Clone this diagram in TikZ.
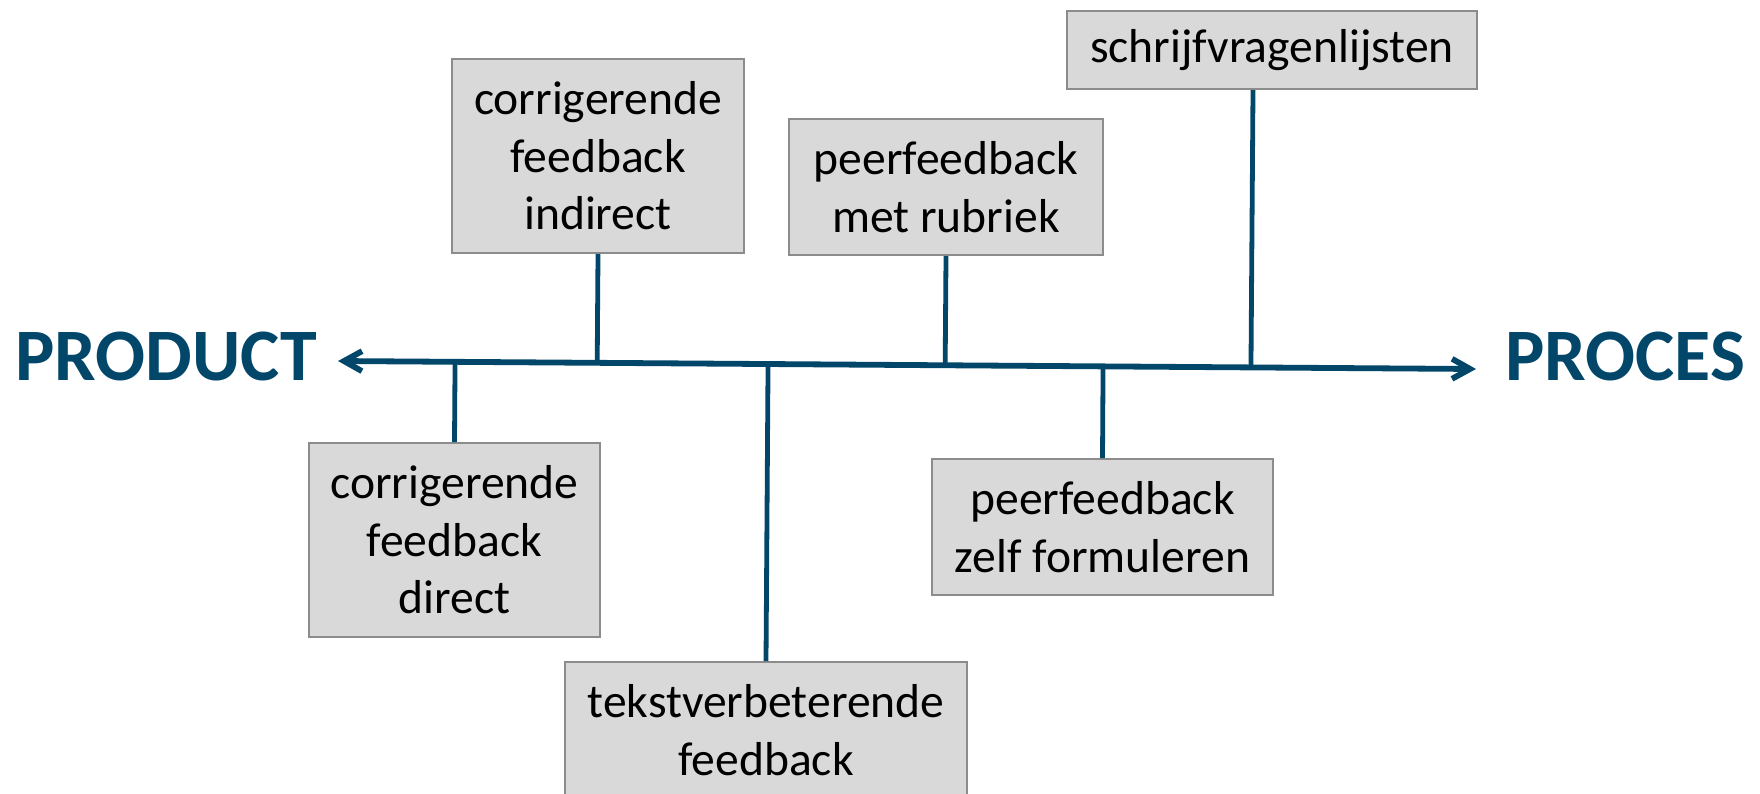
\documentclass[tikz,border=0pt]{standalone}
\usepackage{fontspec}
\setmainfont{Carlito}
\usepackage{xcolor}
\usepackage{tikz}
\usetikzlibrary{arrows.meta,positioning,calc}
\definecolor{procblue}{HTML}{02466A}
\definecolor{boxfill}{HTML}{D9D9D9}
\definecolor{boxgray}{HTML}{8C8C8C}

\begin{document}
\begin{tikzpicture}[
  x=0.5pt, y=-0.5pt,
  box/.style={rectangle, draw=boxgray, line width=1pt, fill=boxfill, align=center, inner sep=0pt, font=\fontsize{23.8}{28.75}\selectfont},
  axis/.style={{Straight Barb[length=9pt, width=10pt]}-{Straight Barb[length=9pt, width=10pt]}, line width=2.9pt, draw=procblue, line cap=round},
  link/.style={line width=2.4pt, draw=procblue},
  pole/.style={font=\fontsize{37}{44}\selectfont\bfseries, text=procblue, inner sep=0pt, anchor=base west}
]
\useasboundingbox (0,0) rectangle (1760,793);

% Axis with both ends
\coordinate (west) at (338,361);
\coordinate (east) at (1476,369);
\draw[axis] (west) -- (east);
\node[pole] (product) at (15,380) {PRODUCT};
\node[pole] (proces) at (1505,380) {PROCES};

% Boxes above the axis
\node[box, minimum width=146pt, minimum height=97pt] (indirect) at (598,156) {corrigerende\\feedback\\indirect};
\node[box, minimum width=157pt, minimum height=68pt] (rubriek) at (946,187) {peerfeedback\\met rubriek};
\node[box, minimum width=205pt, minimum height=39pt] (schrijf) at (1272,50) {schrijfvragenlijsten};
\coordinate (schrijf foot) at ($(schrijf.south)+(-19,0)$);
\draw[link] (indirect.south) -- ($(west)!(indirect.south)!(east)$);
\draw[link] (rubriek.south) -- ($(west)!(rubriek.south)!(east)$);
\draw[link] (schrijf foot) -- ($(west)!(schrijf foot)!(east)$);

% Boxes below the axis
\node[box, minimum width=145.5pt, minimum height=97pt] (direct) at (454.5,540) {corrigerende\\feedback\\direct};
\node[box, minimum width=201pt, minimum height=68pt] (tekst) at (766,730) {tekstverbeterende\\feedback};
\node[box, minimum width=170.5pt, minimum height=68pt] (zelf) at (1102.5,527) {peerfeedback\\zelf formuleren};
\draw[link] (direct.north) -- ($(west)!(direct.north)!(east)$);
\draw[link] (tekst.north) -- ($(west)!(tekst.north)!(east)$);
\draw[link] (zelf.north) -- ($(west)!(zelf.north)!(east)$);

\end{tikzpicture}
\end{document}
